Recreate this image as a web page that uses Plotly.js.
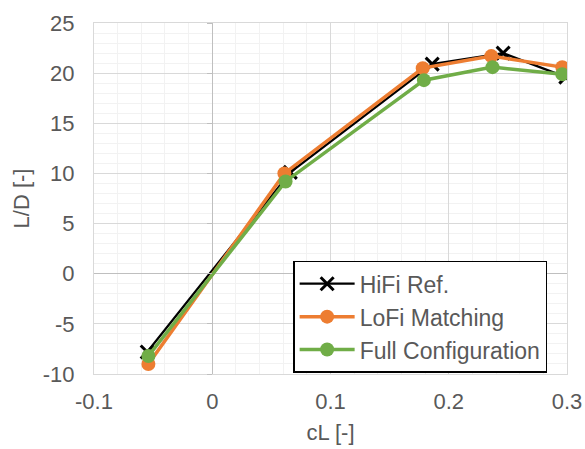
<!DOCTYPE html>
<html>
<head>
<meta charset="utf-8">
<script src="https://cdn.plot.ly/plotly-3.0.1.min.js"></script>
<style>html,body{margin:0;padding:0;background:#fff;}#chart{width:585px;height:449px;}</style>
</head>
<body>
<div id="chart"></div>
<script>
var seriesNames = ["HiFi Ref.", "LoFi Matching", "Full Configuration"];
var hifiCL = [-0.055, 0.066, 0.186, 0.246, 0.299];
var hifiLD = [-7.8, 10.1, 20.9, 22.0, 19.6];
var lofiCL = [-0.054, 0.061, 0.178, 0.236, 0.296];
var lofiLD = [-9.0, 10.0, 20.5, 21.7, 20.6];
var fullCL = [-0.054, 0.062, 0.179, 0.237, 0.296];
var fullLD = [-8.2, 9.2, 19.3, 20.6, 19.9];
var xTickVals = [-0.1, 0, 0.1, 0.2, 0.3];
var xTickText = ["-0.1", "0", "0.1", "0.2", "0.3"];
var yTickVals = [-10, -5, 0, 5, 10, 15, 20, 25];
var yTickText = ["-10", "-5", "0", "5", "10", "15", "20", "25"];

var fontFam = "Liberation Sans, Arial, sans-serif";
var txt = "#595959";

var traces = [
  {x: hifiCL, y: hifiLD, name: seriesNames[0], type: "scatter", mode: "lines+markers",
   line: {color: "#000000", width: 2.25},
   marker: {symbol: "x-thin-open", size: 13, color: "#000000", line: {color: "#000000", width: 3}}},
  {x: lofiCL, y: lofiLD, name: seriesNames[1], type: "scatter", mode: "lines+markers",
   line: {color: "#ED7D31", width: 3.5},
   marker: {symbol: "circle", size: 14, color: "#ED7D31"}},
  {x: fullCL, y: fullLD, name: seriesNames[2], type: "scatter", mode: "lines+markers",
   line: {color: "#70AD47", width: 3.5},
   marker: {symbol: "circle", size: 14, color: "#70AD47"}},
  {x: [], y: [], yaxis: "y2", type: "scatter", mode: "markers", showlegend: false, hoverinfo: "skip"}
];

var layout = {
  width: 585, height: 449,
  margin: {l: 94, r: 18, t: 23, b: 75, pad: 0},
  paper_bgcolor: "#ffffff", plot_bgcolor: "#ffffff",
  font: {family: fontFam, size: 22, color: txt},
  showlegend: true,
  legend: {x: 0.421, y: 0.163, xanchor: "left", yanchor: "middle",
    bgcolor: "#ffffff", bordercolor: "#000000", borderwidth: 1.5,
    font: {family: fontFam, size: 23, color: txt}, itemwidth: 55, tracegroupgap: 0},
  xaxis: {range: [-0.1, 0.3], tickvals: xTickVals, ticktext: xTickText,
    showgrid: true, gridcolor: "#d9d9d9", gridwidth: 1,
    zeroline: true, zerolinecolor: "#bfbfbf", zerolinewidth: 1,
    showline: true, linecolor: "#d9d9d9", linewidth: 1, mirror: true,
    ticks: "", ticklabelstandoff: 8,
    minor: {dtick: 0.02, showgrid: true, gridcolor: "#f2f2f2", gridwidth: 1},
    title: {text: "cL [-]", font: {family: fontFam, size: 22, color: txt}, standoff: 11},
    fixedrange: true},
  yaxis: {range: [-10, 25], tickvals: yTickVals, ticktext: yTickText,
    showgrid: true, gridcolor: "#d9d9d9", gridwidth: 1,
    zeroline: true, zerolinecolor: "#bfbfbf", zerolinewidth: 1,
    showline: true, linecolor: "#d9d9d9", linewidth: 1, mirror: true,
    ticks: "", ticklabelstandoff: 14,
    minor: {dtick: 1, showgrid: true, gridcolor: "#f2f2f2", gridwidth: 1},
    title: {text: "L/D [-]", font: {family: fontFam, size: 22, color: txt}, standoff: 7},
    fixedrange: true},
  yaxis2: {range: [-10, 25], overlaying: "y", anchor: "free", position: 0.25, side: "left",
    tickvals: yTickVals, showticklabels: false, ticks: "outside", ticklen: 5, tickwidth: 1,
    tickcolor: "#bfbfbf", showgrid: false, zeroline: false, showline: false, fixedrange: true}
};

Plotly.newPlot("chart", traces, layout, {staticPlot: true, displayModeBar: false});
</script>
</body>
</html>
